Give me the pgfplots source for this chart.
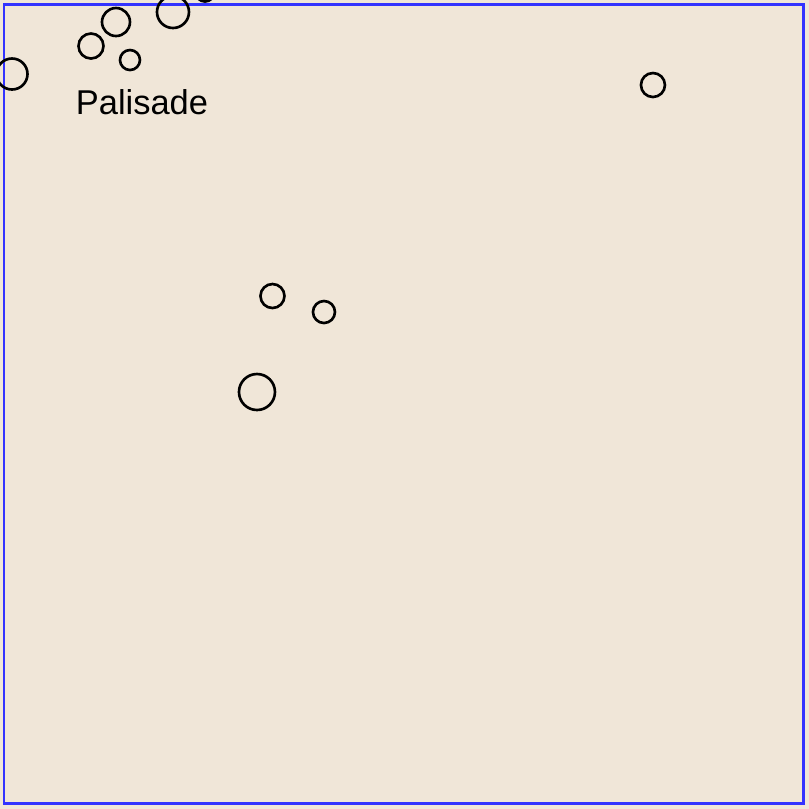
\documentclass[border=0pt]{standalone}
\usepackage{pgfplots}
\pgfplotsset{compat=1.18}
\usepackage{pgfplotstable}
\usepackage{fontspec}
\setmainfont{Liberation Sans}
\usetikzlibrary{backgrounds}
\definecolor{bg}{RGB}{240,230,216}
\definecolor{frame}{RGB}{51,51,255}
\pgfplotstableread{
x y r
12 74 15.5
91 46 12.5
116 22 14
130 60 10
173 12 16
205 -8 9.5
653 85 12
272.5 296 12
324 312 11
257 392 18
}\bubbles
\begin{document}
\begin{tikzpicture}
\begin{axis}[
  scale only axis, width=8cm, height=7.99cm,
  xmin=4, xmax=804, ymin=4, ymax=803, y dir=reverse,
  xtick=\empty, ytick=\empty,
  axis line style={frame, line width=0.85pt},
  axis on top, clip=false,
]
\addplot[scatter, only marks, mark=o, line width=0.75pt,
  mark options={line width=0.75pt},
  scatter/use mapped color={draw=black},
  visualization depends on={0.28453*\thisrow{r} \as \perpointmarksize},
  scatter/@pre marker code/.append style={/tikz/mark size=\perpointmarksize pt, /tikz/line width=0.75pt}]
  table[x=x, y=y] {\bubbles};
\node[font=\fontsize{9.8pt}{11pt}\selectfont, inner sep=0pt] at (axis cs:142,102.5) {Palisade};
\coordinate (imgA) at (axis cs:0,809);
\coordinate (imgB) at (axis cs:809,0);
\end{axis}
\begin{scope}[on background layer]
\fill[bg] (imgA) rectangle (imgB);
\end{scope}
\pgfresetboundingbox
\useasboundingbox (imgA) rectangle (imgB);
\end{tikzpicture}
\end{document}
